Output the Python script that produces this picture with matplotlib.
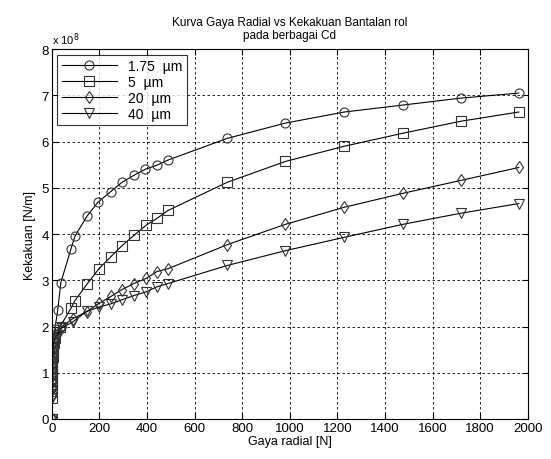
import matplotlib.pyplot as plt
from matplotlib.ticker import FuncFormatter

plt.rcParams['font.family'] = ['Liberation Sans', 'DejaVu Sans']

labels = ['1.75  µm', '5  µm', '20  µm', '40  µm']
markers = ['o', 's', 'd', 'v']

small_x = [0, 0.2, 0.4, 0.7, 1.0, 1.4, 2, 2.7, 3.5, 4.5, 6, 8]

# gaya radial [N]
x1 = small_x + [13, 25, 38, 80, 97, 147, 194, 248, 295, 345, 392, 442, 488, 737, 981, 1229, 1474, 1718, 1962]
x2 = small_x + [14, 34, 80, 97, 147, 198, 248, 295, 345, 396, 442, 488, 737, 981, 1229, 1474, 1718, 1962]
x3 = small_x + [14, 25, 42, 88, 147, 198, 248, 295, 345, 396, 442, 488, 737, 981, 1229, 1474, 1718, 1962]
x4 = small_x + [14, 25, 42, 88, 147, 198, 248, 295, 345, 396, 442, 488, 737, 981, 1229, 1474, 1718, 1962]

# kekakuan [x 1e8 N/m]
y1 = [0, 0.55, 0.7, 0.85, 0.98, 1.1, 1.22, 1.34, 1.45, 1.56, 1.66, 1.78,
      1.95, 2.36, 2.95, 3.67, 3.95, 4.38, 4.69, 4.92, 5.12, 5.27, 5.4, 5.49, 5.6,
      6.07, 6.4, 6.64, 6.79, 6.94, 7.05]
y2 = [0, 0.45, 0.6, 0.75, 0.88, 1.0, 1.12, 1.24, 1.35, 1.46, 1.56, 1.65,
      1.75, 1.99, 2.39, 2.56, 2.91, 3.25, 3.51, 3.75, 3.97, 4.19, 4.34, 4.51,
      5.12, 5.57, 5.9, 6.18, 6.44, 6.64]
y3 = [0, 0.5, 0.65, 0.8, 0.93, 1.05, 1.17, 1.29, 1.4, 1.5, 1.6, 1.68,
      1.75, 1.85, 2.0, 2.17, 2.32, 2.5, 2.65, 2.8, 2.93, 3.04, 3.19, 3.25,
      3.77, 4.21, 4.58, 4.88, 5.16, 5.44]
y4 = [0, 0.45, 0.62, 0.77, 0.9, 1.02, 1.14, 1.26, 1.37, 1.47, 1.57, 1.65,
      1.72, 1.82, 1.97, 2.1, 2.33, 2.42, 2.49, 2.58, 2.67, 2.75, 2.86, 2.93,
      3.32, 3.64, 3.93, 4.21, 4.45, 4.66]

xs = [x1, x2, x3, x4]
ys = [y1, y2, y3, y4]

fig = plt.figure(figsize=(5.51, 4.6), dpi=100)
ax = fig.add_axes([0.094, 0.087, 0.864, 0.804])

for x, y, m, lab in zip(xs, ys, markers, labels):
    ax.plot(x, [v * 1e8 for v in y], color='black', lw=0.8, marker=m,
            markersize=6.5, markerfacecolor='none', markeredgecolor='#333333',
            markeredgewidth=0.8, label=lab)

ax.set_xlim(0, 2000)
ax.set_ylim(0, 8e8)
ax.set_xticks(range(0, 2001, 200))
ax.set_yticks([i * 1e8 for i in range(9)])
ax.yaxis.set_major_formatter(FuncFormatter(lambda v, p: '%d' % round(v / 1e8)))
ax.tick_params(direction='in', labelsize=9.5, length=4, top=True, right=True, pad=2)
ax.grid(True, color='black', linestyle=(0, (3, 3)), lw=0.6)
for s in ax.spines.values():
    s.set_linewidth(0.8)

ax.text(0, 1.005, 'x 10$^8$', transform=ax.transAxes, fontsize=8, va='bottom')
ax.set_title('Kurva Gaya Radial vs Kekakuan Bantalan rol\npada berbagai Cd',
             fontsize=8.5, pad=8, linespacing=1.1)
ax.set_xlabel('Gaya radial [N]', fontsize=9, labelpad=1)
ax.set_ylabel('Kekakuan [N/m]', fontsize=9, labelpad=4)

leg = ax.legend(loc='upper left', fontsize=10, handlelength=4, frameon=True,
                fancybox=False, edgecolor='black', borderaxespad=0.4,
                labelspacing=0.15, borderpad=0.3)
leg.get_frame().set_linewidth(0.8)

fig.savefig('out.png', dpi=100)
